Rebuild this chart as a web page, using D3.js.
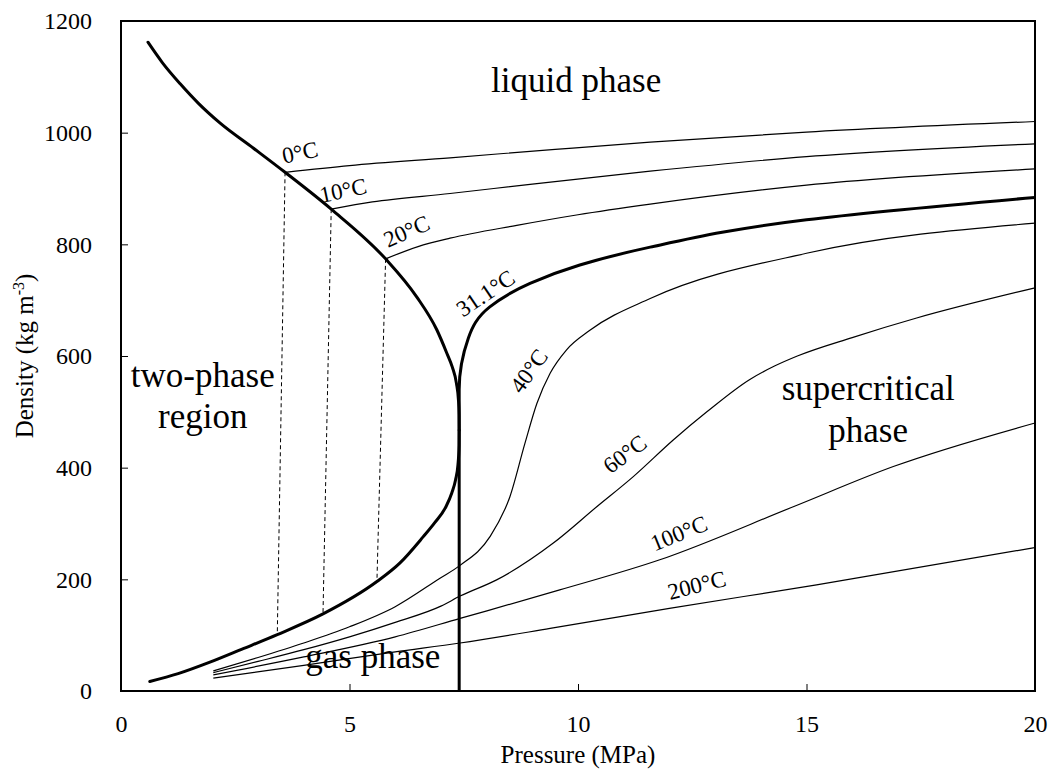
<!DOCTYPE html>
<html>
<head>
<meta charset="utf-8">
<script src="https://cdn.jsdelivr.net/npm/d3@7"></script>
<style>
  body { margin: 0; background: #fff; }
  text { font-family: 'Liberation Serif', 'Times New Roman', serif; fill: #000; }
</style>
</head>
<body>
<div id="chart"></div>
<script>
// all points are [pressure MPa, density kg/m3]

// saturation curve, liquid side (triple point -> critical point)
var satLiquid = [
  [0.59, 1162], [0.9, 1126], [1.3, 1087], [1.7, 1052], [2.17, 1017],
  [2.9, 972], [3.59, 929], [4.6, 863], [5.79, 774], [6.47, 706],
  [6.91, 647], [7.13, 605], [7.25, 580], [7.34, 551], [7.385, 520],
  [7.398, 495], [7.4, 467]
]

// saturation curve, vapour side
var satVapor = [
  [0.63, 17], [1.25, 31], [1.96, 52], [2.65, 75], [3.42, 101],
  [4.42, 138], [5.6, 196], [6.1, 229], [6.61, 276], [6.87, 302],
  [7.11, 330], [7.24, 355], [7.32, 378], [7.373, 405], [7.398, 440],
  [7.4, 467]
]

// dashed tie lines: liquid point -> vapour point
var tieLines = [
  [[3.59, 929], [3.42, 101]],
  [[4.6, 863], [4.42, 138]],
  [[5.79, 774], [5.6, 196]]
]

var iso0 = [[3.59, 929], [5, 941], [7.2, 955], [9.5, 970], [11.58, 983], [15, 1001], [20, 1020]]
var iso10 = [[4.6, 863], [5.5, 876], [7.2, 891], [9, 908], [11.58, 931], [15, 957], [20, 980]]
var iso20 = [[5.79, 774], [6.5, 796], [7.2, 811], [8.66, 834], [10, 853], [11.58, 872], [15, 906], [20, 935]]
var iso31 = [[7.4, 0], [7.4, 540], [7.6, 632], [8.07, 688], [8.95, 730], [10.04, 763], [11.58, 795], [15, 844], [20, 884]]
var iso40 = [
  [2.02, 36], [3, 60], [4, 86], [5, 115], [6, 151], [6.98, 202], [7.42, 225],
  [8.07, 276], [8.51, 348], [8.84, 444], [9.1, 515], [9.39, 569],
  [9.75, 611], [10.26, 646], [11.58, 703], [15, 784], [20, 838]
]
var iso60 = [
  [2.02, 33], [3, 53], [4, 74], [5, 97], [6, 123], [7, 152], [7.42, 170],
  [8.22, 199], [9.46, 265], [10.41, 330], [11.21, 384], [12.09, 450],
  [12.82, 500], [13.76, 558], [14.3, 582], [14.8, 600], [16, 633],
  [17.41, 668], [20, 722]
]
var iso100 = [[2.02, 29], [4, 61], [6, 97], [7.42, 130], [9.6, 181], [11.79, 235], [14.71, 330], [16.9, 402], [20, 480]]
var iso200 = [[2.02, 23], [4, 46], [6, 70], [7.42, 86], [9.39, 112], [12, 148], [15.22, 190], [20, 257]]

var isoNames = ['0°C', '10°C', '20°C', '31.1°C', '40°C', '60°C', '100°C', '200°C']

var xTicks = [0, 5, 10, 15, 20]
var yTicks = [0, 200, 400, 600, 800, 1000, 1200]

var margin = { top: 21, left: 121, right: 16, bottom: 83 }
var width = 1051 - margin.left - margin.right
var height = 774 - margin.top - margin.bottom

var svg = d3
  .select('#chart')
  .append('svg')
  .attr('width', width + margin.left + margin.right)
  .attr('height', height + margin.top + margin.bottom)
  .append('g')
  .attr('transform', 'translate(' + margin.left + ',' + margin.top + ')')

var xScale = d3.scaleLinear().domain([0, 20]).range([0, width])
var yScale = d3.scaleLinear().domain([0, 1200]).range([height, 0])

var lineX = d3
  .line()
  .x(d => xScale(d[0]))
  .y(d => yScale(d[1]))
  .curve(d3.curveMonotoneX)

var lineY = d3
  .line()
  .x(d => xScale(d[0]))
  .y(d => yScale(d[1]))
  .curve(d3.curveMonotoneY)

// axes, ticks pointing inward
var xAxis = d3
  .axisBottom(xScale)
  .tickValues(xTicks)
  .tickFormat(d3.format('d'))
  .tickSizeInner(-7)
  .tickSizeOuter(0)
  .tickPadding(24)

var yAxis = d3
  .axisLeft(yScale)
  .tickValues(yTicks)
  .tickFormat(d3.format('d'))
  .tickSizeInner(-7)
  .tickSizeOuter(0)
  .tickPadding(29)

svg
  .append('g')
  .attr('class', 'x-axis')
  .attr('transform', 'translate(0,' + height + ')')
  .call(xAxis)

svg.append('g').attr('class', 'y-axis').call(yAxis)

svg.selectAll('.domain').remove()
svg
  .selectAll('.tick line')
  .attr('stroke', '#000')
  .attr('stroke-width', 1)
svg
  .selectAll('.tick text')
  .attr('font-size', 24)
  .style('font-family', "'Liberation Serif', serif")
  .attr('fill', '#000')

// plot frame
svg
  .append('rect')
  .attr('x', 0)
  .attr('y', 0)
  .attr('width', width)
  .attr('height', height)
  .attr('fill', 'none')
  .attr('stroke', '#000')
  .attr('stroke-width', 2)

// axis titles
svg
  .append('text')
  .attr('x', width / 2)
  .attr('y', height + 72)
  .attr('text-anchor', 'middle')
  .attr('font-size', 25)
  .text('Pressure (MPa)')

var yTitle = svg
  .append('text')
  .attr('transform', 'translate(' + (33 - margin.left) + ',' + (height / 2) + ') rotate(-90)')
  .attr('text-anchor', 'middle')
  .attr('font-size', 25)
yTitle.append('tspan').text('Density (kg m')
yTitle
  .append('tspan')
  .attr('dy', -9)
  .attr('font-size', 16)
  .text('-3')
yTitle
  .append('tspan')
  .attr('dy', 9)
  .text(')')

// tie lines
svg
  .selectAll('.tie')
  .data(tieLines)
  .enter()
  .append('path')
  .attr('class', 'tie')
  .attr('d', d3.line().x(d => xScale(d[0])).y(d => yScale(d[1])))
  .attr('fill', 'none')
  .attr('stroke', '#000')
  .attr('stroke-width', 1)
  .attr('stroke-dasharray', '4,3')

// thin isotherms
var thin = [iso0, iso10, iso20, iso40, iso60, iso100, iso200]
svg
  .selectAll('.iso')
  .data(thin)
  .enter()
  .append('path')
  .attr('class', 'iso')
  .attr('d', lineX)
  .attr('fill', 'none')
  .attr('stroke', '#000')
  .attr('stroke-width', 1.2)

// critical isotherm
svg
  .append('path')
  .datum(iso31)
  .attr('d', lineY)
  .attr('fill', 'none')
  .attr('stroke', '#000')
  .attr('stroke-width', 3)

// saturation curve
svg
  .selectAll('.sat')
  .data([satLiquid, satVapor])
  .enter()
  .append('path')
  .attr('class', 'sat')
  .attr('d', lineX)
  .attr('fill', 'none')
  .attr('stroke', '#000')
  .attr('stroke-width', 3)
  .attr('stroke-linecap', 'round')

// isotherm labels: [name, pressure, density, rotation]
var isoLabels = [
  [isoNames[0], 3.92, 964, -12],
  [isoNames[1], 4.86, 896, -12],
  [isoNames[2], 6.25, 823, -24],
  [isoNames[3], 7.98, 712, -34],
  [isoNames[4], 8.93, 573, -54],
  [isoNames[5], 11.03, 424, -37],
  [isoNames[6], 12.21, 282, -22],
  [isoNames[7], 12.6, 189, -14]
]

svg
  .selectAll('.iso-label')
  .data(isoLabels)
  .enter()
  .append('text')
  .attr('class', 'iso-label')
  .attr('transform', d => 'translate(' + xScale(d[1]) + ',' + yScale(d[2]) + ') rotate(' + d[3] + ')')
  .attr('text-anchor', 'middle')
  .attr('dominant-baseline', 'central')
  .attr('font-size', 23)
  .text(d => d[0])

// region names
var regions = [
  ['liquid phase', 9.96, 1073],
  ['two-phase', 1.79, 544],
  ['region', 1.79, 471],
  ['supercritical', 16.35, 521],
  ['phase', 16.35, 446],
  ['gas phase', 5.51, 41]
]

svg
  .selectAll('.region')
  .data(regions)
  .enter()
  .append('text')
  .attr('class', 'region')
  .attr('x', d => xScale(d[1]))
  .attr('y', d => yScale(d[2]))
  .attr('text-anchor', 'middle')
  .attr('font-size', 35)
  .text(d => d[0])
</script>
</body>
</html>
